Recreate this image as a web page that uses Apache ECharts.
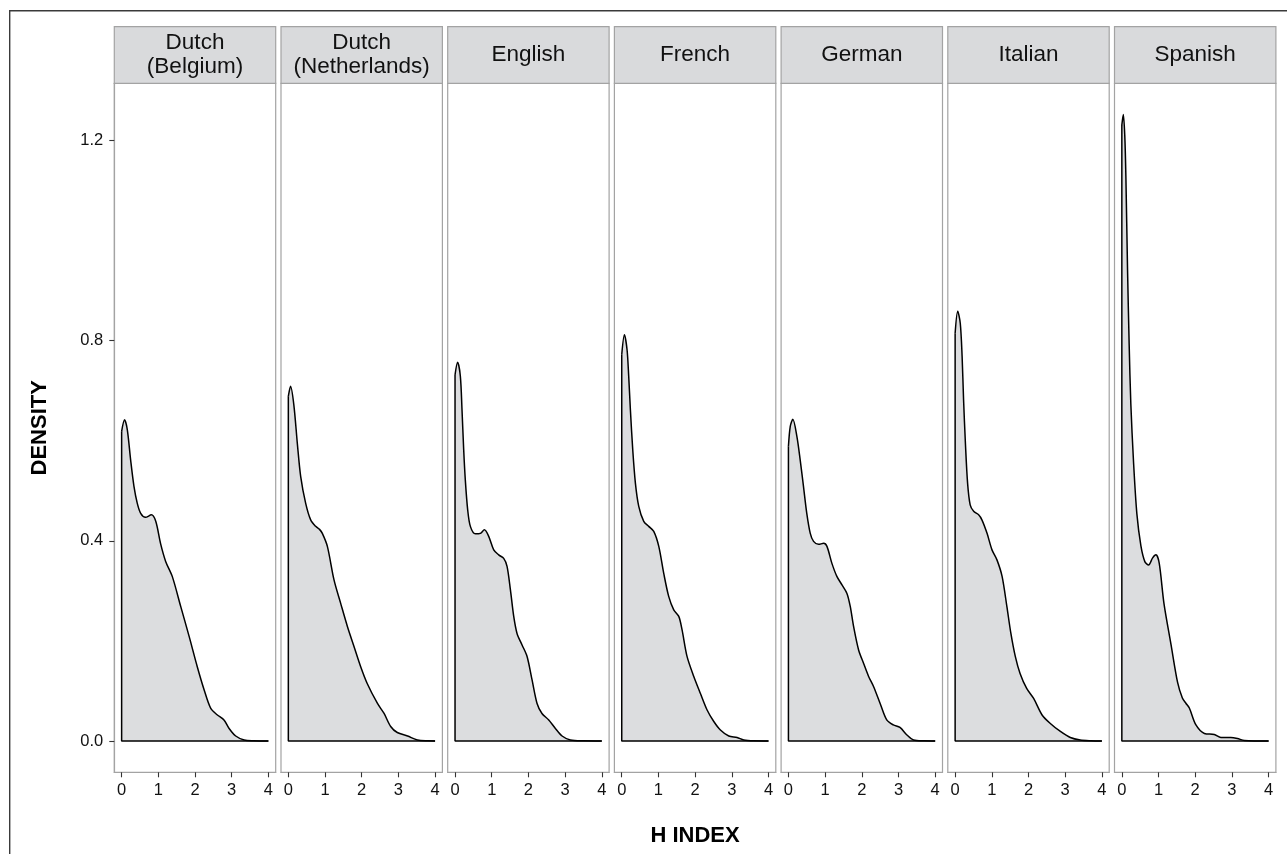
<!DOCTYPE html>
<html><head><meta charset="utf-8">
<script src="https://cdn.jsdelivr.net/npm/echarts@6/dist/echarts.min.js"></script>
<style>html,body{margin:0;padding:0;background:#fff}#c{width:1287px;height:854px}</style>
</head><body><div id="c"></div>
<script>
// ---- data (h index vs density) ----
const panelNames = ['Dutch\n(Belgium)', 'Dutch\n(Netherlands)', 'English', 'French', 'German', 'Italian', 'Spanish'];
const xTicks = [0, 1, 2, 3, 4];
const yTicks = [0, 0.4, 0.8, 1.2];
const xTitle = 'H INDEX';
const yTitle = 'DENSITY';

const dutchBelgium = [[0,0.619],[0.08,0.642],[0.155,0.622],[0.245,0.562],[0.336,0.509],[0.427,0.475],[0.52,0.455],[0.65,0.447],[0.81,0.452],[0.93,0.439],[1.06,0.395],[1.2,0.359],[1.38,0.329],[1.61,0.269],[1.84,0.209],[2.06,0.149],[2.25,0.102],[2.43,0.065],[2.61,0.052],[2.79,0.042],[2.93,0.025],[3.11,0.010],[3.34,0.002],[3.6,0.0005],[4,0]];
const dutchNetherlands = [[0,0.689],[0.06,0.709],[0.15,0.672],[0.245,0.595],[0.336,0.529],[0.473,0.475],[0.609,0.442],[0.745,0.429],[0.85,0.423],[0.927,0.415],[1.064,0.389],[1.245,0.322],[1.427,0.275],[1.61,0.229],[1.79,0.189],[1.97,0.149],[2.15,0.115],[2.43,0.075],[2.61,0.055],[2.79,0.029],[2.97,0.017],[3.25,0.010],[3.52,0.002],[3.8,0.0003],[4,0]];
const english = [[0,0.732],[0.07,0.757],[0.145,0.729],[0.19,0.662],[0.236,0.582],[0.28,0.522],[0.345,0.462],[0.418,0.429],[0.555,0.414],[0.69,0.415],[0.8,0.422],[0.918,0.409],[1.055,0.382],[1.19,0.372],[1.327,0.365],[1.418,0.349],[1.51,0.302],[1.6,0.249],[1.69,0.215],[1.827,0.192],[1.964,0.169],[2.1,0.122],[2.236,0.075],[2.37,0.055],[2.555,0.042],[2.736,0.025],[2.918,0.010],[3.145,0.002],[3.5,0.0003],[4,0]];
const french = [[0,0.772],[0.073,0.812],[0.145,0.782],[0.19,0.729],[0.236,0.662],[0.3,0.582],[0.373,0.515],[0.464,0.469],[0.6,0.439],[0.736,0.429],[0.873,0.419],[1.01,0.389],[1.145,0.335],[1.28,0.289],[1.418,0.262],[1.555,0.249],[1.645,0.222],[1.78,0.169],[1.964,0.129],[2.145,0.095],[2.327,0.062],[2.51,0.039],[2.69,0.022],[2.918,0.010],[3.145,0.007],[3.327,0.002],[3.6,0.0003],[4,0]];
const german = [[0,0.589],[0.05,0.629],[0.12,0.643],[0.23,0.609],[0.32,0.562],[0.41,0.509],[0.5,0.455],[0.595,0.415],[0.685,0.399],[0.82,0.393],[0.96,0.395],[1.05,0.389],[1.185,0.355],[1.32,0.329],[1.46,0.312],[1.595,0.295],[1.685,0.269],[1.776,0.229],[1.913,0.182],[2.05,0.155],[2.186,0.129],[2.32,0.109],[2.5,0.075],[2.68,0.042],[2.86,0.032],[3.04,0.027],[3.23,0.012],[3.41,0.002],[3.7,0.0003],[4,0]];
const italian = [[0,0.815],[0.07,0.859],[0.14,0.835],[0.19,0.769],[0.23,0.682],[0.28,0.595],[0.34,0.515],[0.41,0.472],[0.505,0.459],[0.64,0.452],[0.73,0.442],[0.87,0.415],[1.005,0.382],[1.14,0.362],[1.28,0.329],[1.41,0.269],[1.52,0.215],[1.64,0.169],[1.77,0.135],[1.95,0.105],[2.14,0.085],[2.37,0.052],[2.595,0.035],[2.87,0.019],[3.14,0.007],[3.41,0.002],[3.7,0.0005],[4,0]];
const spanish = [[0,1.231],[0.04,1.252],[0.08,1.21],[0.11,1.13],[0.155,0.944],[0.2,0.792],[0.245,0.674],[0.32,0.556],[0.41,0.454],[0.52,0.39],[0.63,0.358],[0.73,0.352],[0.84,0.366],[0.93,0.372],[1.02,0.355],[1.15,0.274],[1.34,0.193],[1.52,0.117],[1.65,0.086],[1.75,0.075],[1.84,0.066],[2.02,0.032],[2.25,0.015],[2.52,0.013],[2.7,0.007],[2.97,0.007],[3.15,0.005],[3.34,0.001],[4,0]];
const panelData = [dutchBelgium, dutchNetherlands, english, french, german, italian, spanish];

// ---- layout / style ----
const FONT = '"Liberation Sans", Arial, Helvetica, sans-serif';
const PANEL_LEFT = 114.3, PANEL_W = 161.4, PANEL_PITCH = 166.7;
const STRIP_TOP = 26.7, PANEL_TOP = 83.3, PANEL_H = 689;
const BORDER = '#a3a3a3', STRIP_FILL = '#d9dadc', AREA_FILL = '#dcdddf';
const X_MIN = -0.2, X_MAX = 4.2, Y_MIN = -0.0626, Y_MAX = 1.3146;

const grids = [], xAxes = [], yAxes = [], series = [], graphics = [];
panelData.forEach((pts, i) => {
  const left = PANEL_LEFT + i * PANEL_PITCH;
  grids.push({left: left, top: PANEL_TOP, width: PANEL_W, height: PANEL_H,
    show: true, borderColor: BORDER, borderWidth: 1.2, backgroundColor: '#fff'});
  xAxes.push({type: 'value', gridIndex: i, min: X_MIN, max: X_MAX, position: 'bottom',
    axisLine: {show: true, onZero: false, lineStyle: {color: BORDER, width: 1.2}},
    axisTick: {show: true, customValues: xTicks, length: 5, lineStyle: {color: '#333', width: 1.1}},
    axisLabel: {customValues: xTicks, fontSize: 16.5, fontFamily: FONT, color: '#111', margin: 10},
    splitLine: {show: false}});
  yAxes.push({type: 'value', gridIndex: i, min: Y_MIN, max: Y_MAX, show: i === 0, position: 'left',
    axisLine: {show: true, onZero: false, lineStyle: {color: BORDER, width: 1.2}},
    axisTick: {show: true, customValues: yTicks, length: 5, lineStyle: {color: '#333', width: 1.1}},
    axisLabel: {customValues: yTicks, fontSize: 16.5, fontFamily: FONT, color: '#111', margin: 11,
      formatter: v => v.toFixed(1)},
    splitLine: {show: false}});
  series.push({type: 'line', xAxisIndex: i, yAxisIndex: i, data: pts, smooth: 0.3,
    symbol: 'none', lineStyle: {color: '#000', width: 1.5},
    areaStyle: {color: AREA_FILL, opacity: 1}, z: 3});
  series.push({type: 'line', xAxisIndex: i, yAxisIndex: i,
    data: [pts[0], [pts[0][0], 0], [pts[pts.length - 1][0], 0]],
    symbol: 'none', lineStyle: {color: '#000', width: 1.5}, z: 4});
  graphics.push({type: 'rect', shape: {x: left, y: STRIP_TOP, width: PANEL_W, height: PANEL_TOP - STRIP_TOP},
    style: {fill: STRIP_FILL, stroke: BORDER, lineWidth: 1.2}, z: 10});
  graphics.push({type: 'text', x: left + PANEL_W / 2, y: (STRIP_TOP + PANEL_TOP) / 2,
    style: {text: panelNames[i], align: 'center', verticalAlign: 'middle', fontSize: 22.5,
      fontFamily: FONT, fill: '#111', lineHeight: 24.5}, z: 11});
});
const panelsRight = PANEL_LEFT + 6 * PANEL_PITCH + PANEL_W;
graphics.push({type: 'text', x: 40, y: PANEL_TOP + PANEL_H / 2, rotation: Math.PI / 2,
  style: {text: yTitle, align: 'center', verticalAlign: 'middle', fontSize: 22, fontWeight: 'bold',
    fontFamily: FONT, fill: '#000'}, z: 11});
graphics.push({type: 'text', x: (PANEL_LEFT + panelsRight) / 2, y: 835.7,
  style: {text: xTitle, align: 'center', verticalAlign: 'middle', fontSize: 22, fontWeight: 'bold',
    fontFamily: FONT, fill: '#000'}, z: 11});
graphics.push({type: 'rect', shape: {x: 9.7, y: 10.7, width: 1400, height: 1000},
  style: {fill: 'none', stroke: '#3a3a3a', lineWidth: 1.4}, z: 12});

const chart = echarts.init(document.getElementById('c'), null, {renderer: 'canvas'});
chart.setOption({animation: false, backgroundColor: '#fff', grid: grids, xAxis: xAxes, yAxis: yAxes,
  series: series, graphic: graphics});
</script></body></html>
